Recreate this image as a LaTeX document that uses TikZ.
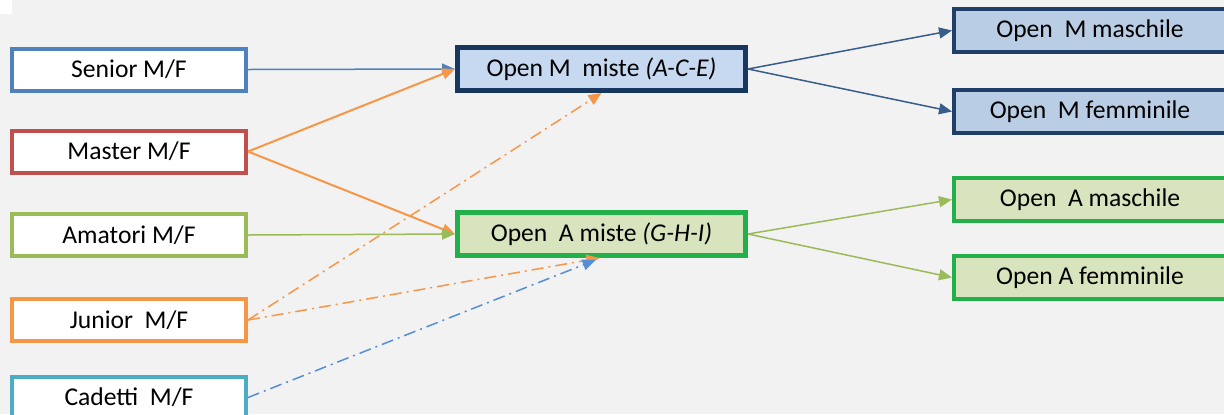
\documentclass[tikz,border=0pt]{standalone}
\usepackage{fontspec}
\setmainfont{Carlito}
\usetikzlibrary{arrows.meta}
\definecolor{bg}{HTML}{F2F2F2}
\definecolor{cblue}{HTML}{4F81BD}
\definecolor{cred}{HTML}{C0504D}
\definecolor{cgreen}{HTML}{9BBB59}
\definecolor{corange}{HTML}{F79646}
\definecolor{caqua}{HTML}{4BACC6}
\definecolor{navy}{HTML}{17375E}
\definecolor{navyb}{HTML}{1F3F68}
\definecolor{mfill}{HTML}{C6D9F1}
\definecolor{mfillb}{HTML}{B9CDE5}
\definecolor{afill}{HTML}{D7E4BD}
\definecolor{gborder}{HTML}{23B04B}
\definecolor{darrow}{HTML}{385D8A}
\definecolor{dashblue}{HTML}{558ED5}
\tikzset{
  leftbox/.style={draw, fill=white, line width=2pt, minimum width=117pt, minimum height=21pt, inner sep=0pt},
  midbox/.style={draw, line width=2.5pt, minimum width=144pt, minimum height=21.5pt, inner sep=0pt},
  rightbox/.style={draw, line width=2pt, minimum width=136pt, minimum height=21.5pt, inner sep=0pt},
  conn/.style={line width=0.75pt, -{Triangle[length=6.5pt,width=5.5pt]}},
  dashdot/.style={dash pattern=on 6pt off 2.5pt on 1pt off 2.5pt}
}
\begin{document}
\begin{tikzpicture}[x=0.5pt,y=-0.5pt,font=\fontsize{12.8}{15}\selectfont]
\useasboundingbox (0,0) rectangle (1224,414);
\fill[bg] (0,0) rectangle (1224,414);
\fill[white] (0,0) rectangle (12,14);
% left column
\node[leftbox, draw=cblue] (senior) at (129,69.5) {Senior M/F};
\node[leftbox, draw=cred] (master) at (129,151.5) {Master M/F};
\node[leftbox, draw=cgreen] (amatori) at (129,235) {Amatori M/F};
\node[leftbox, draw=corange] (junior) at (129,320) {Junior\ \ M/F};
\node[leftbox, draw=caqua] (cadetti) at (129,397.5) {Cadetti\ \ M/F};
% middle column
\node[midbox, draw=navy, fill=mfill] (omm) at (601.5,69) {Open M\ \ miste \textit{(A-C-E)}};
\node[midbox, draw=gborder, fill=afill] (oam) at (601.5,234) {Open\ \ A miste \textit{(G-H-I)}};
% right column
\node[rightbox, draw=navyb, fill=mfillb] (ommas) at (1090,30.5) {Open\ \ M maschile};
\node[rightbox, draw=navyb, fill=mfillb] (omfem) at (1090,111.5) {Open\ \ M femminile};
\node[rightbox, draw=gborder, fill=afill] (oamas) at (1090,199.5) {Open\ \ A maschile};
\node[rightbox, draw=gborder, fill=afill] (oafem) at (1090,277.5) {Open A femminile};
% connectors
\draw[conn, cblue] (senior.east) -- (omm.west);
\draw[conn, corange, line width=1pt] (master.east) -- (omm.west);
\draw[conn, corange, line width=1pt] (master.east) -- (oam.west);
\draw[conn, cgreen] (amatori.east) -- (oam.west);
\draw[conn, corange, dashdot] (junior.east) -- (omm.south);
\draw[conn, corange, dashdot] (junior.east) -- ([xshift=-1pt]oam.south);
\draw[conn, dashblue, dashdot] (cadetti.east) -- ([xshift=-3pt,yshift=-1pt]oam.south);
\draw[conn, darrow] (omm.east) -- (ommas.west);
\draw[conn, darrow] (omm.east) -- (omfem.west);
\draw[conn, cgreen] (oam.east) -- (oamas.west);
\draw[conn, cgreen] (oam.east) -- (oafem.west);
\end{tikzpicture}
\end{document}
